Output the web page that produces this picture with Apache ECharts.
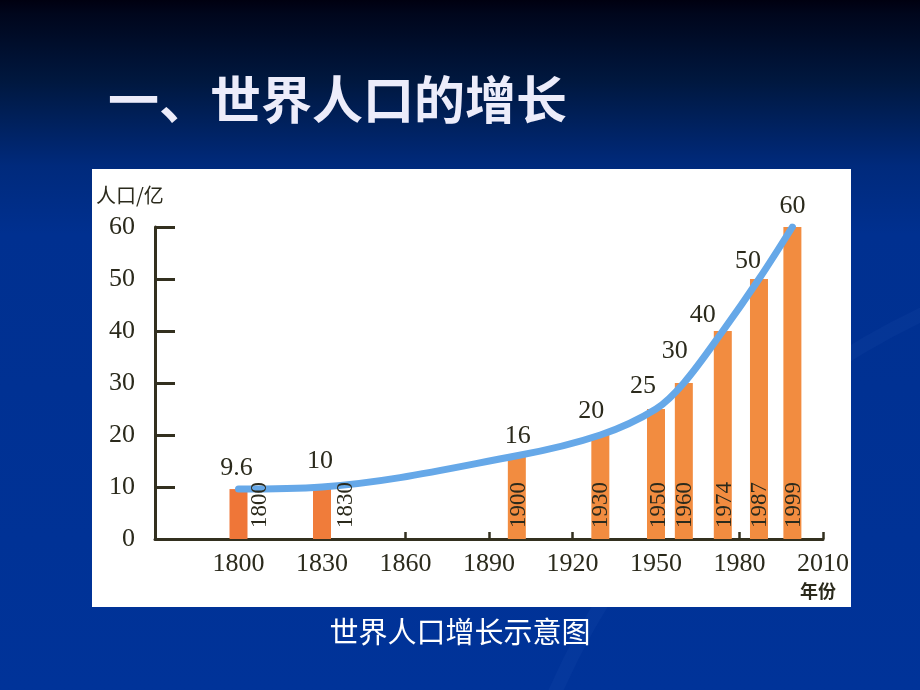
<!DOCTYPE html>
<html><head><meta charset="utf-8">
<script src="https://cdn.jsdelivr.net/npm/echarts@6/dist/echarts.min.js"></script>
<style>html,body{margin:0;padding:0;background:#003399}#c{width:920px;height:690px}</style>
</head><body><div id="c"></div>
<script>
// ---- data ----
const years = [1800, 1830, 1900, 1930, 1950, 1960, 1974, 1987, 1999];
const population = [9.6, 10, 16, 20, 25, 30, 40, 50, 60];
const xTickYears = [1800, 1830, 1860, 1890, 1920, 1950, 1980, 2010];
const yTickValues = [0, 10, 20, 30, 40, 50, 60];
const titleText = '一、世界人口的增长';
const captionText = '世界人口增长示意图';
const yAxisName = '人口/亿';
const xAxisName = '年份';

// ---- label nudges (style only) ----
const valueNudge = [[-2, -8], [-2, -13], [1, -7], [-9, -11], [-13, -10], [-9, -19], [-20, -3], [-11, -5], [0, -8]];
// for the rotated year labels: [along text, across text(+ = right)]
const yearNudge = [[0, 21], [0, 24], [0, 2], [0, 1], [0, 3], [0, 1], [0, 2], [0, 1], [0, 2]];
const barColors = ['#ef7638', '#f07c3a', '#f28c40', '#f28c40', '#f28c40', '#f28c40', '#f28c40', '#f28c40', '#f28c40'];

const serif = '"Liberation Serif", "DejaVu Serif", serif';
const cjk = '"Noto Sans CJK SC", sans-serif';
const ink = '#2b2a1c';

const barData = years.map((y, i) => ({
  value: [y, population[i]],
  itemStyle: { color: barColors[i] },
  label: { offset: valueNudge[i] }
}));
const yearData = years.map((y, i) => ({
  value: [y, population[i]],
  label: { offset: yearNudge[i] }
}));
const lineData = years.map((y, i) => [y, population[i]]);

const chart = echarts.init(document.getElementById('c'), null, { renderer: 'canvas' });
chart.setOption({
  animation: false,
  graphic: [
    { type: 'rect', z: -100, shape: { x: 0, y: 0, width: 920, height: 690 },
      style: { fill: new echarts.graphic.LinearGradient(0, 0, 0, 1, [
        { offset: 0, color: '#000010' },
        { offset: 0.02, color: '#00061c' },
        { offset: 0.12, color: '#001840' },
        { offset: 0.24, color: '#002a7c' },
        { offset: 0.34, color: '#003090' },
        { offset: 1, color: '#003399' }
      ]) } },
    { type: 'circle', z: -90, shape: { cx: 1250, cy: 1000, r: 760 },
      style: { fill: 'none', stroke: 'rgba(90,130,220,0.06)', lineWidth: 14 } },
    { type: 'rect', z: -50, shape: { x: 92, y: 169, width: 759, height: 438 }, style: { fill: '#ffffff' } },
    { type: 'text', z: 10, left: 108, top: 74,
      style: { text: titleText, fill: '#ececfa', font: 'bold 51px ' + cjk } },
    { type: 'text', z: 10, left: 'center', top: 617,
      style: { text: captionText, fill: '#ffffff', font: '29px ' + cjk } },
    { type: 'text', z: 10, left: 96, top: 185,
      style: { text: yAxisName, fill: ink, font: '20px ' + cjk } },
    { type: 'text', z: 10, left: 800, top: 582,
      style: { text: xAxisName, fill: ink, font: 'bold 18px ' + cjk } }
  ],
  grid: { left: 155, right: 97, top: 227, bottom: 151, containLabel: false },
  xAxis: {
    type: 'value', min: 1770, max: 2010, interval: 30,
    splitLine: { show: false },
    axisLine: { lineStyle: { color: '#33301f', width: 3 } },
    axisTick: { inside: true, length: 7, lineStyle: { color: '#33301f', width: 2.5 } },
    axisLabel: {
      margin: 12, color: ink, fontFamily: serif, fontSize: 26,
      formatter: v => (xTickYears.indexOf(v) >= 0 ? String(v) : '')
    }
  },
  yAxis: {
    type: 'value', min: 0, max: 60, interval: 10,
    splitLine: { show: false },
    axisLine: { show: true, lineStyle: { color: '#33301f', width: 3 } },
    axisTick: { show: true, inside: true, length: 20, lineStyle: { color: '#33301f', width: 3 } },
    axisLabel: {
      margin: 20, color: ink, fontFamily: serif, fontSize: 26,
      formatter: v => (yTickValues.indexOf(v) >= 0 ? String(v) : '')
    }
  },
  series: [
    {
      type: 'bar', z: 2, barWidth: 18, barGap: '-100%',
      data: barData,
      label: {
        show: true, position: 'top', distance: 0,
        color: ink, fontFamily: serif, fontSize: 26,
        formatter: p => String(p.value[1])
      }
    },
    {
      type: 'line', z: 5, smooth: 0.35, showSymbol: false,
      data: lineData,
      lineStyle: { color: '#66a8e8', width: 7, cap: 'round' }
    },
    {
      type: 'bar', z: 6, barWidth: 18, barGap: '-100%',
      data: yearData,
      itemStyle: { color: 'rgba(0,0,0,0)' },
      label: {
        show: true, position: 'insideBottom', distance: 11, rotate: 90,
        align: 'left', verticalAlign: 'middle',
        color: ink, fontFamily: serif, fontSize: 23,
        formatter: p => String(p.value[0])
      }
    }
  ]
});
</script>
</body></html>
